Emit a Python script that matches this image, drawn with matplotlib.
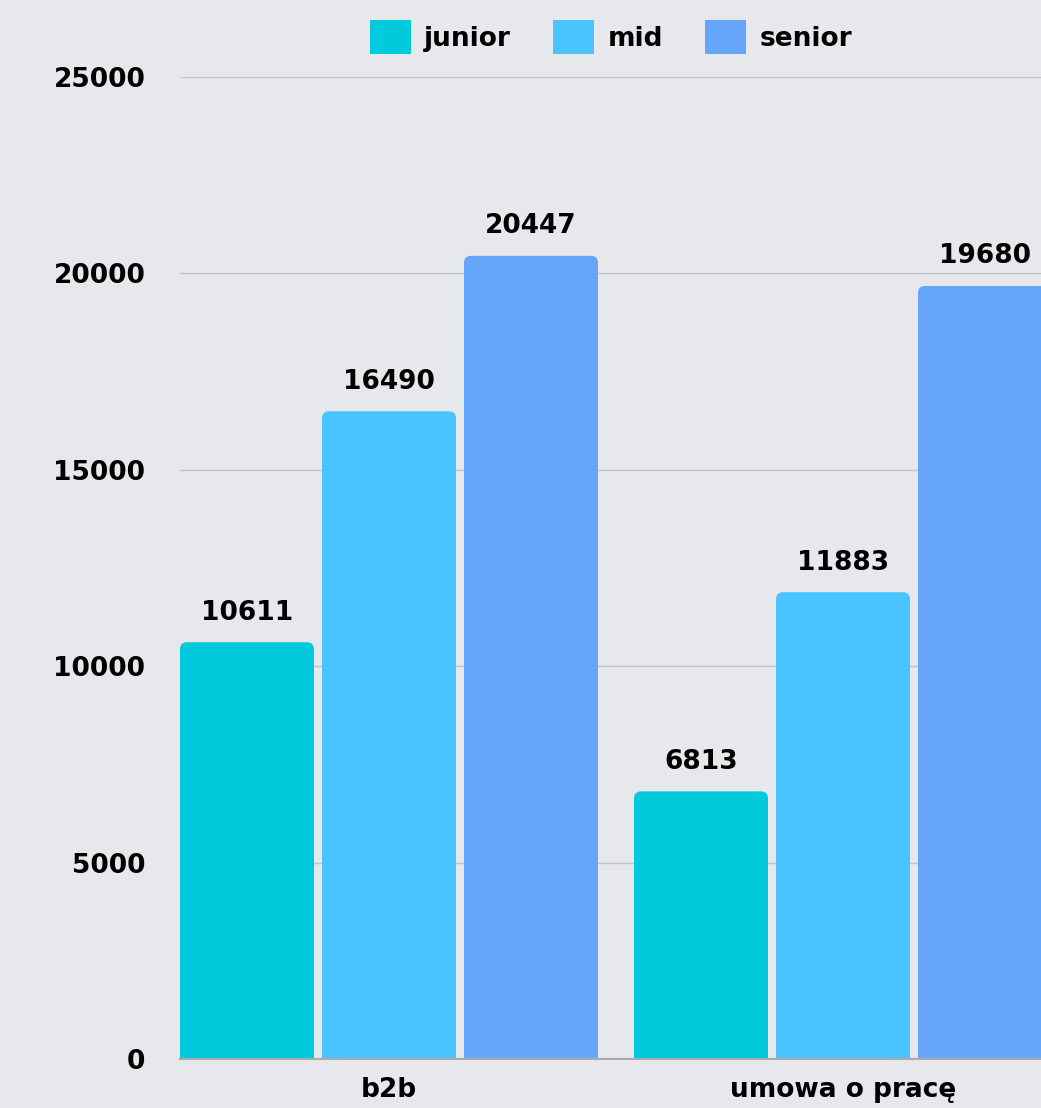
import matplotlib
matplotlib.use("Agg")
from matplotlib import pyplot as plt
from matplotlib.patches import FancyBboxPatch
import numpy as np

categories = ["b2b", "umowa o pracę"]
levels = ["junior", "mid", "senior"]
junior = [10611, 6813]
mid = [16490, 11883]
senior = [20447, 19680]
colors = ["#00cadb", "#4ac4ff", "#66a6fa"]

W, H = 1041, 1108
fig = plt.figure(figsize=(W / 100, H / 100), dpi=100)
fig.patch.set_facecolor("#e7e8ec")

# axes: left edge at 180 px, y=0 at 1059 px, y=25000 at 77 px, runs past the right edge
ax = fig.add_axes([180 / W, 1 - 1059 / H, (W - 180) / W, (1059 - 77) / H])
ax.set_facecolor("none")

x = np.arange(len(categories))
bw = 134 / 454
step = 142 / 454
px_x = 1 / 454
px_y = 25000 / 982
r = 7 * px_x

for i, (vals, col, lab) in enumerate(zip([junior, mid, senior], colors, levels)):
    xs = x + (i - 1) * step
    ax.bar(xs, [v - 7 * px_y for v in vals], bw, color=col, label=lab, zorder=2)
    for xi, v in zip(xs, vals):
        p = FancyBboxPatch((xi - bw / 2, v - 20 * px_y), bw, 20 * px_y,
                           boxstyle="round,pad=0,rounding_size=%f" % r,
                           mutation_aspect=px_y / px_x, fc=col, ec="none", zorder=2)
        ax.add_patch(p)
        ax.annotate(str(v), (xi, v), xytext=(0, 12), textcoords="offset points",
                    ha="center", va="bottom", fontsize=19, fontweight="bold",
                    color="black", annotation_clip=False)

ax.set_xlim(-209 / 454, (W - 389) / 454)
ax.set_ylim(0, 25000)
ax.set_yticks(range(0, 25001, 5000))
ax.set_xticks(x)
ax.set_xticklabels(categories)
ax.tick_params(axis="y", length=0, pad=25, labelsize=19)
ax.tick_params(axis="x", length=0, pad=13, labelsize=19)
for t in ax.get_xticklabels() + ax.get_yticklabels():
    t.set_fontweight("bold")
ax.grid(axis="y", color="#c3c4c8", linewidth=1, zorder=0)
ax.set_axisbelow(True)
for s in ["top", "right", "left"]:
    ax.spines[s].set_visible(False)
ax.spines["bottom"].set_color("#a9aaae")
ax.spines["bottom"].set_linewidth(1.5)

leg = fig.legend(loc="center", bbox_to_anchor=(611 / W, 1 - 37 / H), ncol=3,
                 frameon=False, handlelength=1.55, handleheight=1.55,
                 handletextpad=0.5, columnspacing=1.6,
                 prop={"size": 19, "weight": "bold"})

plt.savefig("out.png", dpi=100, facecolor=fig.get_facecolor())
